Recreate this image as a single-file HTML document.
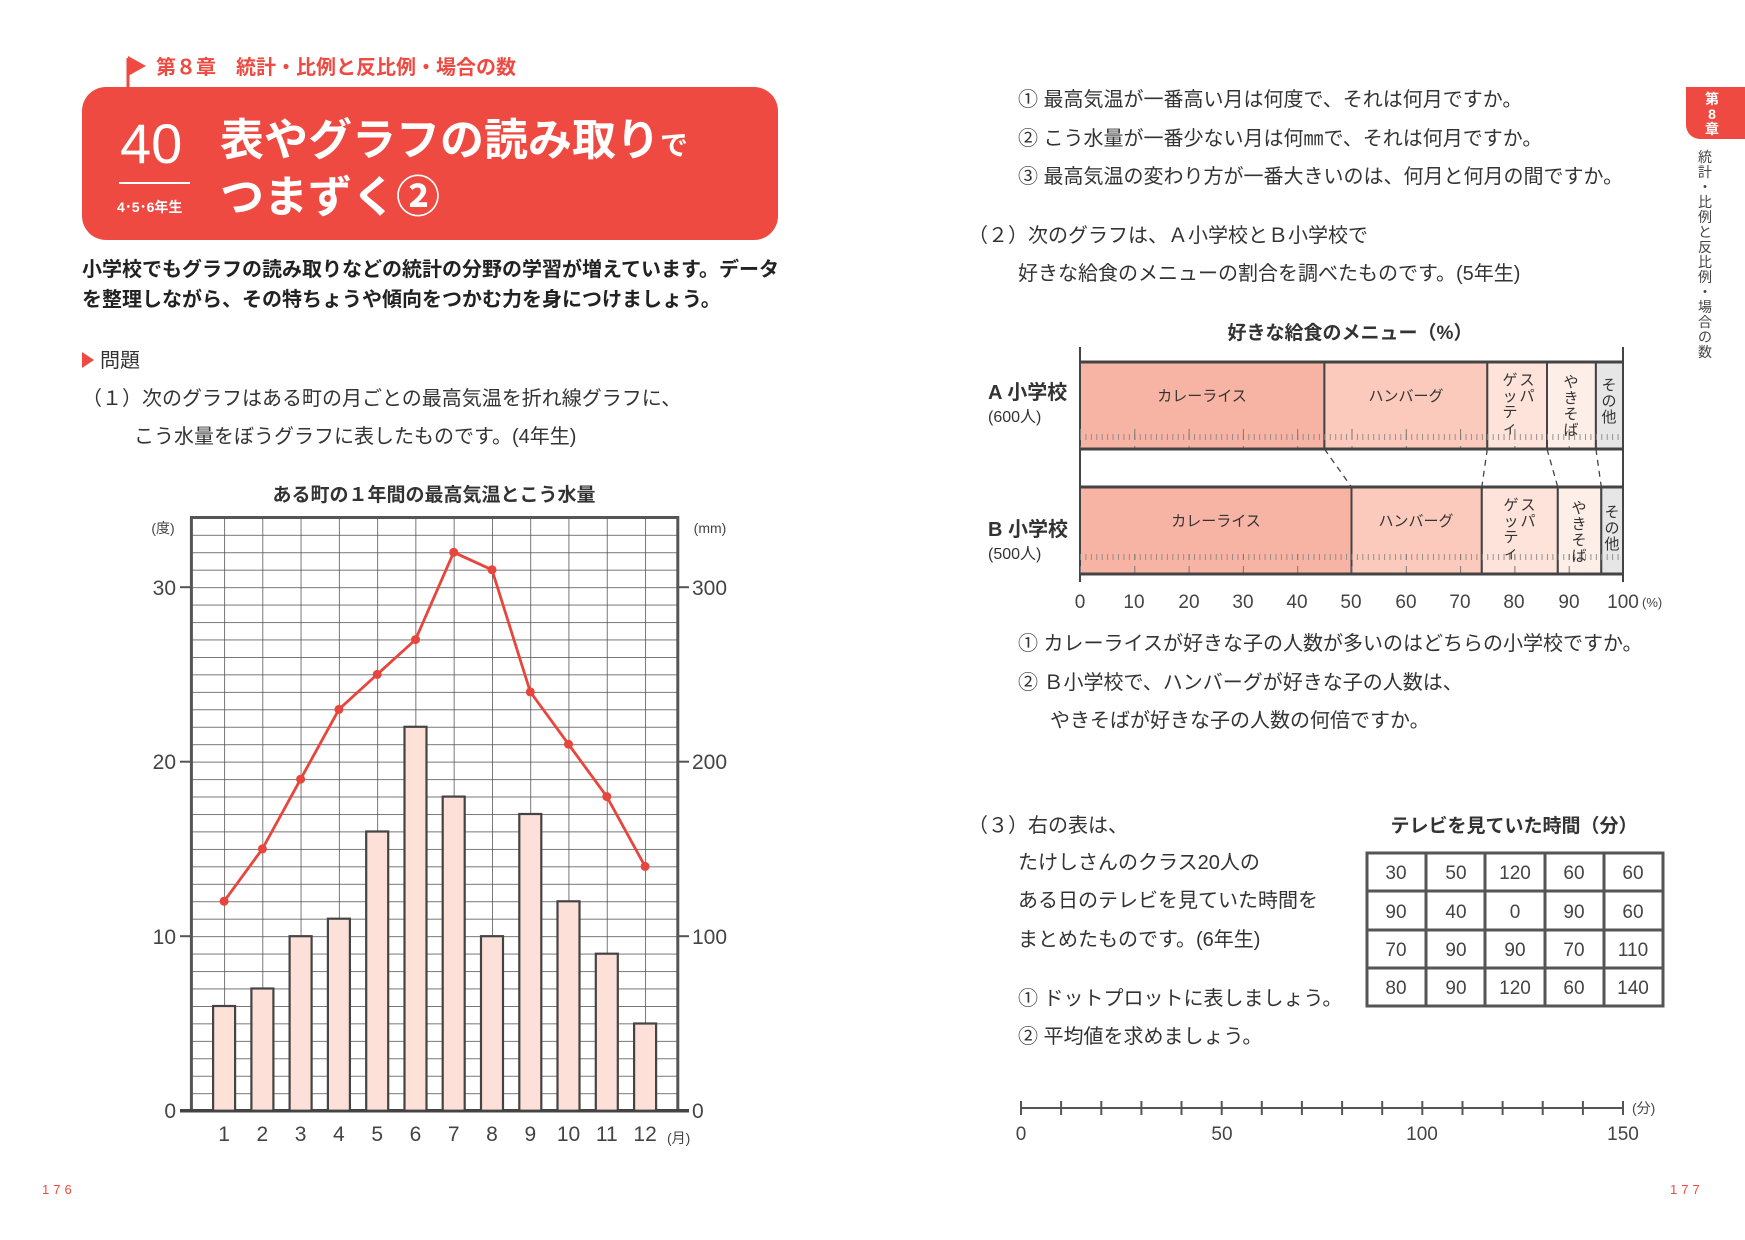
<!DOCTYPE html>
<html><head><meta charset="utf-8"><style>
html,body{margin:0;padding:0;background:#fff}
svg{display:block}
text{font-family:"Liberation Sans","Noto Sans CJK JP",sans-serif}
</style></head><body>
<svg width="1745" height="1240" viewBox="0 0 1745 1240" xmlns="http://www.w3.org/2000/svg">
<defs>
<pattern id="hg" patternUnits="userSpaceOnUse" x="0" y="1110.7" width="10" height="17.45"><line x1="0" y1="0" x2="10" y2="0" stroke="#555" stroke-width="1.6"/></pattern>
<pattern id="vg" patternUnits="userSpaceOnUse" x="224.1" y="0" width="38.27" height="10"><line x1="0" y1="0" x2="0" y2="10" stroke="#555" stroke-width="1.6"/></pattern>
<pattern id="rt" patternUnits="userSpaceOnUse" x="1080" y="0" width="5.43" height="20"><line x1="0.5" y1="14" x2="0.5" y2="20" stroke="#888" stroke-width="0.9"/></pattern>
<pattern id="rt10" patternUnits="userSpaceOnUse" x="1080" y="0" width="54.3" height="20"><line x1="0.5" y1="6" x2="0.5" y2="20" stroke="#777" stroke-width="1"/></pattern>
</defs>

<!-- left page header -->
<line x1="128" y1="58" x2="128" y2="88" stroke="#ee4a42" stroke-width="3"/>
<polygon points="128,56 146,66 128,76" fill="#ee4a42"/>
<text x="156" y="74" font-size="20" font-weight="bold" fill="#ee4a42">第８章　統計・比例と反比例・場合の数</text>
<rect x="82" y="87" width="696" height="153" rx="24" fill="#ee4a42"/>
<text x="120" y="163" font-size="56" fill="#fff">40</text>
<line x1="119" y1="183" x2="190" y2="183" stroke="#fff" stroke-width="2"/>
<text x="117" y="212" font-size="14" fill="#fff" font-weight="bold">4･5･6年生</text>
<text x="220" y="155" font-size="44" font-weight="bold" fill="#fff">表やグラフの読み取り<tspan font-size="28">で</tspan></text>
<text x="220" y="212" font-size="44" font-weight="bold" fill="#fff">つまずく②</text>
<text x="82" y="276" font-size="20" font-weight="bold" fill="#222">小学校でもグラフの読み取りなどの統計の分野の学習が増えています。データ</text>
<text x="82" y="306" font-size="20" font-weight="bold" fill="#222">を整理しながら、その特ちょうや傾向をつかむ力を身につけましょう。</text>
<polygon points="82,352 94,360 82,368" fill="#ee4a42"/>
<text x="100" y="367" font-size="20" fill="#333">問題</text>
<text x="82" y="405" font-size="20" fill="#333">（１）次のグラフはある町の月ごとの最高気温を折れ線グラフに、</text>
<text x="134" y="443" font-size="20" fill="#333">こう水量をぼうグラフに表したものです。(4年生)</text>

<!-- line/bar chart -->
<text x="434" y="501" font-size="19" font-weight="bold" fill="#333" text-anchor="middle">ある町の１年間の最高気温とこう水量</text>
<text x="163" y="533" font-size="14" fill="#444" text-anchor="middle">(度)</text>
<text x="710" y="533" font-size="14" fill="#444" text-anchor="middle">(mm)</text>
<rect x="191.4" y="517.5" width="486.4" height="593.2" fill="url(#hg)"/>
<rect x="191.4" y="517.5" width="486.4" height="593.2" fill="url(#vg)"/>
<rect x="191.4" y="517.5" width="486.4" height="593.2" fill="none" stroke="#555" stroke-width="3"/>
<line x1="180" y1="1110.7" x2="689" y2="1110.7" stroke="#444" stroke-width="3.5"/>
<g stroke="#555" stroke-width="2">
<line x1="180" y1="936.2" x2="191" y2="936.2"/><line x1="180" y1="761.7" x2="191" y2="761.7"/><line x1="180" y1="587.2" x2="191" y2="587.2"/>
<line x1="678" y1="936.2" x2="689" y2="936.2"/><line x1="678" y1="761.7" x2="689" y2="761.7"/><line x1="678" y1="587.2" x2="689" y2="587.2"/>
</g>
<g font-size="21" fill="#444">
<g text-anchor="end"><text x="176" y="595">30</text><text x="176" y="769">20</text><text x="176" y="944">10</text><text x="176" y="1118">0</text></g>
<text x="692" y="595">300</text><text x="692" y="769">200</text><text x="692" y="944">100</text><text x="692" y="1118">0</text>
<g text-anchor="middle">
<text x="224.1" y="1141">1</text><text x="262.4" y="1141">2</text><text x="300.6" y="1141">3</text><text x="338.9" y="1141">4</text><text x="377.2" y="1141">5</text><text x="415.5" y="1141">6</text><text x="453.7" y="1141">7</text><text x="492.0" y="1141">8</text><text x="530.3" y="1141">9</text><text x="568.5" y="1141">10</text><text x="606.8" y="1141">11</text><text x="645.1" y="1141">12</text>
</g></g>
<text x="667" y="1143" font-size="14" fill="#444">(月)</text>
<g fill="#fde0d8" stroke="#444" stroke-width="2.2">
<rect x="213.1" y="1006.0" width="22" height="104.7"/>
<rect x="251.4" y="988.5" width="22" height="122.2"/>
<rect x="289.6" y="936.2" width="22" height="174.5"/>
<rect x="327.9" y="918.7" width="22" height="192"/>
<rect x="366.2" y="831.5" width="22" height="279.2"/>
<rect x="404.5" y="726.8" width="22" height="383.9"/>
<rect x="442.7" y="796.6" width="22" height="314.1"/>
<rect x="481.0" y="936.2" width="22" height="174.5"/>
<rect x="519.3" y="814.0" width="22" height="296.7"/>
<rect x="557.5" y="901.3" width="22" height="209.4"/>
<rect x="595.8" y="953.7" width="22" height="157"/>
<rect x="634.1" y="1023.5" width="22" height="87.2"/>
</g>
<polyline fill="none" stroke="#e8453c" stroke-width="2.8" points="224.1,901.3 262.4,848.9 300.6,779.2 338.9,709.4 377.2,674.4 415.5,639.6 453.7,552.3 492.0,569.8 530.3,691.9 568.5,744.2 606.8,796.6 645.1,866.4"/>
<g fill="#e8453c">
<circle cx="224.1" cy="901.3" r="4.5"/><circle cx="262.4" cy="848.9" r="4.5"/><circle cx="300.6" cy="779.2" r="4.5"/><circle cx="338.9" cy="709.4" r="4.5"/><circle cx="377.2" cy="674.4" r="4.5"/><circle cx="415.5" cy="639.6" r="4.5"/><circle cx="453.7" cy="552.3" r="4.5"/><circle cx="492.0" cy="569.8" r="4.5"/><circle cx="530.3" cy="691.9" r="4.5"/><circle cx="568.5" cy="744.2" r="4.5"/><circle cx="606.8" cy="796.6" r="4.5"/><circle cx="645.1" cy="866.4" r="4.5"/>
</g>
<text x="42" y="1194" font-size="13" fill="#ee4a42" letter-spacing="4">176</text>

<!-- right page -->
<path d="M1686,87 h59 v52 h-45 a14,14 0 0 1 -14,-14 z" fill="#ee4a42"/>
<g font-size="14" fill="#fff" text-anchor="middle" font-weight="bold"><text x="1712" y="104">第</text><text x="1712" y="119">8</text><text x="1712" y="134">章</text></g>
<g font-size="14" fill="#444" text-anchor="middle">
<text x="1705" y="162">統</text><text x="1705" y="177">計</text><text x="1705" y="192">・</text><text x="1705" y="207">比</text><text x="1705" y="222">例</text><text x="1705" y="237">と</text><text x="1705" y="252">反</text><text x="1705" y="267">比</text><text x="1705" y="282">例</text><text x="1705" y="297">・</text><text x="1705" y="312">場</text><text x="1705" y="327">合</text><text x="1705" y="342">の</text><text x="1705" y="357">数</text>
</g>
<g font-size="20" fill="#333">
<text x="1018" y="106">① 最高気温が一番高い月は何度で、それは何月ですか。</text>
<text x="1018" y="145">② こう水量が一番少ない月は何㎜で、それは何月ですか。</text>
<text x="1018" y="183">③ 最高気温の変わり方が一番大きいのは、何月と何月の間ですか。</text>
<text x="968" y="242">（２）次のグラフは、Ａ小学校とＢ小学校で</text>
<text x="1018" y="280">好きな給食のメニューの割合を調べたものです。(5年生)</text>
<text x="1018" y="650">① カレーライスが好きな子の人数が多いのはどちらの小学校ですか。</text>
<text x="1018" y="689">② Ｂ小学校で、ハンバーグが好きな子の人数は、</text>
<text x="1050" y="727">やきそばが好きな子の人数の何倍ですか。</text>
<text x="968" y="832">（３）右の表は、</text>
<text x="1018" y="869">たけしさんのクラス20人の</text>
<text x="1018" y="907">ある日のテレビを見ていた時間を</text>
<text x="1018" y="946">まとめたものです。(6年生)</text>
<text x="1018" y="1005">① ドットプロットに表しましょう。</text>
<text x="1018" y="1043">② 平均値を求めましょう。</text>
</g>

<!-- band chart -->
<text x="1350" y="339" font-size="19" font-weight="bold" fill="#333" text-anchor="middle">好きな給食のメニュー（%）</text>
<line x1="1080" y1="347" x2="1080" y2="582" stroke="#444" stroke-width="2"/>
<line x1="1623" y1="347" x2="1623" y2="582" stroke="#444" stroke-width="2"/>
<g stroke="#444" stroke-width="2">
<rect x="1080" y="362" width="244.4" height="87" fill="#f7b3a3"/>
<rect x="1324.4" y="362" width="162.9" height="87" fill="#fbcabd"/>
<rect x="1487.3" y="362" width="59.7" height="87" fill="#fde3da"/>
<rect x="1547" y="362" width="48.9" height="87" fill="#fdeee8"/>
<rect x="1595.9" y="362" width="27.1" height="87" fill="#e6e6e6"/>
<rect x="1080" y="487" width="271.5" height="87" fill="#f7b3a3"/>
<rect x="1351.5" y="487" width="130.3" height="87" fill="#fbcabd"/>
<rect x="1481.8" y="487" width="76" height="87" fill="#fde3da"/>
<rect x="1557.8" y="487" width="43.5" height="87" fill="#fdeee8"/>
<rect x="1601.3" y="487" width="21.7" height="87" fill="#e6e6e6"/>
</g>
<rect x="1080" y="429" width="543" height="20" fill="url(#rt)"/>
<rect x="1080" y="554" width="543" height="20" fill="url(#rt)"/>
<rect x="1080" y="429" width="543" height="20" fill="url(#rt10)"/>
<rect x="1080" y="554" width="543" height="20" fill="url(#rt10)"/>
<line x1="1080" y1="362" x2="1623" y2="362" stroke="#444" stroke-width="3"/>
<line x1="1080" y1="449" x2="1623" y2="449" stroke="#444" stroke-width="3"/>
<line x1="1080" y1="487" x2="1623" y2="487" stroke="#444" stroke-width="3"/>
<line x1="1080" y1="574" x2="1623" y2="574" stroke="#444" stroke-width="3"/>
<g stroke="#444" stroke-width="1.3" stroke-dasharray="6,5">
<line x1="1324.4" y1="449" x2="1351.5" y2="487"/><line x1="1487.3" y1="449" x2="1481.8" y2="487"/><line x1="1547" y1="449" x2="1557.8" y2="487"/><line x1="1595.9" y1="449" x2="1601.3" y2="487"/>
</g>
<g font-size="15" fill="#333" text-anchor="middle">
<text x="1202" y="401">カレーライス</text><text x="1406" y="401">ハンバーグ</text>
<text x="1216" y="526">カレーライス</text><text x="1416" y="526">ハンバーグ</text>
</g>
<g font-size="15" fill="#333" text-anchor="middle">
<text x="1527" y="385">ス</text><text x="1527" y="401">パ</text><text x="1510" y="385">ゲ</text><text x="1510" y="401">ッ</text><text x="1510" y="417">テ</text><text x="1510" y="433">ィ</text>
<text x="1571" y="387">や</text><text x="1571" y="403">き</text><text x="1571" y="419">そ</text><text x="1571" y="435">ば</text>
<text x="1609" y="390">そ</text><text x="1609" y="406">の</text><text x="1609" y="422">他</text>
<text x="1528" y="510">ス</text><text x="1528" y="526">パ</text><text x="1511" y="510">ゲ</text><text x="1511" y="526">ッ</text><text x="1511" y="542">テ</text><text x="1511" y="558">ィ</text>
<text x="1579" y="513">や</text><text x="1579" y="529">き</text><text x="1579" y="545">そ</text><text x="1579" y="561">ば</text>
<text x="1612" y="517">そ</text><text x="1612" y="533">の</text><text x="1612" y="549">他</text>
</g>
<g font-size="20" fill="#333" font-weight="bold"><text x="988" y="399">A 小学校</text><text x="988" y="536">B 小学校</text></g>
<g font-size="16" fill="#333"><text x="988" y="422">(600人)</text><text x="988" y="559">(500人)</text></g>
<g font-size="19" fill="#444" text-anchor="middle">
<text x="1080" y="608">0</text><text x="1134" y="608">10</text><text x="1189" y="608">20</text><text x="1243" y="608">30</text><text x="1297" y="608">40</text><text x="1351" y="608">50</text><text x="1406" y="608">60</text><text x="1460" y="608">70</text><text x="1514" y="608">80</text><text x="1569" y="608">90</text><text x="1623" y="608">100</text>
</g>
<text x="1642" y="607" font-size="13" fill="#444">(%)</text>

<!-- table -->
<text x="1514" y="832" font-size="19" font-weight="bold" fill="#333" text-anchor="middle">テレビを見ていた時間（分）</text>
<g stroke="#555" stroke-width="3" fill="none">
<rect x="1367" y="853" width="296" height="153"/>
<line x1="1426" y1="853" x2="1426" y2="1006"/><line x1="1485" y1="853" x2="1485" y2="1006"/><line x1="1545" y1="853" x2="1545" y2="1006"/><line x1="1604" y1="853" x2="1604" y2="1006"/>
<line x1="1367" y1="891" x2="1663" y2="891"/><line x1="1367" y1="930" x2="1663" y2="930"/><line x1="1367" y1="968" x2="1663" y2="968"/>
</g>
<g font-size="19" fill="#444" text-anchor="middle">
<text x="1396" y="879">30</text><text x="1456" y="879">50</text><text x="1515" y="879">120</text><text x="1574" y="879">60</text><text x="1633" y="879">60</text>
<text x="1396" y="918">90</text><text x="1456" y="918">40</text><text x="1515" y="918">0</text><text x="1574" y="918">90</text><text x="1633" y="918">60</text>
<text x="1396" y="956">70</text><text x="1456" y="956">90</text><text x="1515" y="956">90</text><text x="1574" y="956">70</text><text x="1633" y="956">110</text>
<text x="1396" y="994">80</text><text x="1456" y="994">90</text><text x="1515" y="994">120</text><text x="1574" y="994">60</text><text x="1633" y="994">140</text>
</g>

<!-- number line -->
<g stroke="#555" stroke-width="2">
<line x1="1021" y1="1108" x2="1623" y2="1108"/>
<line x1="1021" y1="1101" x2="1021" y2="1115"/><line x1="1061.1" y1="1101" x2="1061.1" y2="1115"/><line x1="1101.3" y1="1101" x2="1101.3" y2="1115"/><line x1="1141.4" y1="1101" x2="1141.4" y2="1115"/><line x1="1181.5" y1="1101" x2="1181.5" y2="1115"/><line x1="1221.7" y1="1101" x2="1221.7" y2="1115"/><line x1="1261.8" y1="1101" x2="1261.8" y2="1115"/><line x1="1301.9" y1="1101" x2="1301.9" y2="1115"/><line x1="1342.1" y1="1101" x2="1342.1" y2="1115"/><line x1="1382.2" y1="1101" x2="1382.2" y2="1115"/><line x1="1422.3" y1="1101" x2="1422.3" y2="1115"/><line x1="1462.5" y1="1101" x2="1462.5" y2="1115"/><line x1="1502.6" y1="1101" x2="1502.6" y2="1115"/><line x1="1542.7" y1="1101" x2="1542.7" y2="1115"/><line x1="1582.9" y1="1101" x2="1582.9" y2="1115"/><line x1="1623" y1="1101" x2="1623" y2="1115"/>
</g>
<g font-size="19" fill="#444" text-anchor="middle"><text x="1021" y="1140">0</text><text x="1222" y="1140">50</text><text x="1422" y="1140">100</text><text x="1623" y="1140">150</text></g>
<text x="1632" y="1113" font-size="14" fill="#444">(分)</text>
<text x="1670" y="1194" font-size="13" fill="#ee4a42" letter-spacing="4">177</text>
</svg>
</body></html>
